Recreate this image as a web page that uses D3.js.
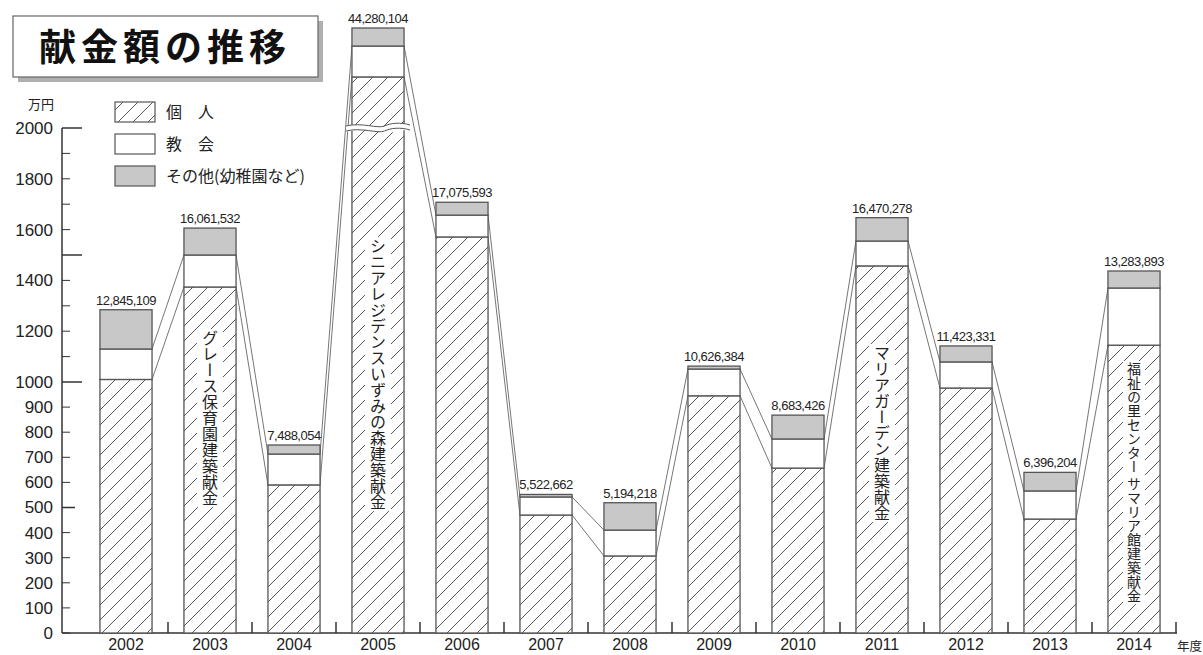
<!DOCTYPE html>
<html><head><meta charset="utf-8">
<script src="https://cdn.jsdelivr.net/npm/d3@7"></script>
<style>
body{margin:0;background:#fff;}
svg{display:block;}
</style></head>
<body>
<svg id="c" width="1203" height="655"></svg>
<script>
const years = ["2002","2003","2004","2005","2006","2007","2008","2009","2010","2011","2012","2013","2014"];
const kojin  = [1010,1374,590,3240,1571,470,307,945,657,1457,976,454,1145];
const kyokai = [120,126,123,750,86,72,103,106,116,98,103,112,225];
const sonota = [154.5,106,36,438,50.6,10,109,11.6,95,92,63,74,67];
const totals = ["12,845,109","16,061,532","7,488,054","44,280,104","17,075,593","5,522,662","5,194,218","10,626,384","8,683,426","16,470,278","11,423,331","6,396,204","13,283,893"];
const notes = [
  {year:"2003", text:"グレース保育園建築献金", y0:330},
  {year:"2005", text:"シニアレジデンスいずみの森建築献金", y0:238},
  {year:"2011", text:"マリアガーデン建築献金", y0:345},
  {year:"2014", text:"福祉の里センター サマリア館建築献金", y0:362}
];
const yLabels = [0,100,200,300,400,500,600,700,800,900,1000,1200,1400,1600,1800,2000];
const yTicks = [0,100,200,300,400,500,600,700,800,900,1000,1100,1200,1300,1400,1500,1600,1700,1800,1900,2000];
const legendItems = ["個　人","教　会","その他(幼稚園など)"];

const svg = d3.select("#c");
const FONT = "Liberation Sans, Arial, sans-serif";
const JP = "'Noto Sans CJK JP', sans-serif";
const stroke = "#555";

const defs = svg.append("defs");
const pat = defs.append("pattern").attr("id","hatch").attr("patternUnits","userSpaceOnUse")
  .attr("width",15).attr("height",15);
pat.append("rect").attr("width",15).attr("height",15).attr("fill","#fff");
pat.append("path").attr("d","M-1,16 L16,-1 M-4,4 L4,-4 M11,19 L19,11").attr("stroke","#444").attr("stroke-width",0.9);

const x = d3.scaleBand().domain(years).range([84,1176]).paddingInner(0.38).paddingOuter(0.19);
const y = d3.scaleLinear().domain([0,1000,2000,4428]).range([633,382,128,28]);

// Title box
svg.append("rect").attr("x",18).attr("y",21).attr("width",305).attr("height",61).attr("fill","#b0b0b0");
svg.append("rect").attr("x",13).attr("y",16).attr("width",305).attr("height",61).attr("fill","#fff").attr("stroke","#666").attr("stroke-width",1.2);
svg.append("text").attr("x",165).attr("y",61).attr("text-anchor","middle")
  .attr("font-family",JP).attr("font-weight",700).attr("font-size",37).attr("letter-spacing",5)
  .attr("fill","#111").text("献金額の推移");

// Legend
const fills = ["url(#hatch)","#fff","#c8c8c8"];
legendItems.forEach((t,i)=>{
  const ly = 102 + i*32;
  svg.append("rect").attr("x",115).attr("y",ly).attr("width",40).attr("height",20)
    .attr("fill",fills[i]).attr("stroke",stroke).attr("stroke-width",1.2);
  svg.append("text").attr("x",166).attr("y",ly+16).attr("font-family",JP).attr("font-size",16)
    .attr("fill","#222").text(t);
});

// Y axis
svg.append("text").attr("x",28).attr("y",109).attr("font-family",JP).attr("font-size",13).attr("fill","#222").text("万円");
const yAxis = d3.axisLeft(y).tickValues(yLabels).tickSize(0).tickPadding(9).tickFormat(d=>d);
const gy = svg.append("g").attr("transform","translate(62,0)").call(yAxis);
gy.select(".domain").remove();
gy.selectAll("text").attr("font-family",FONT).attr("font-size",17).attr("fill","#222");
svg.append("line").attr("x1",62).attr("x2",62).attr("y1",y(0)).attr("y2",y(2000)).attr("stroke","#333").attr("stroke-width",1.5);
svg.selectAll(".yt").data(yTicks).join("line").attr("class","yt")
  .attr("x1",62).attr("x2",d=> (d%500===0 && d>0) ? (d===500?75:82) : 70)
  .attr("y1",d=>y(d)).attr("y2",d=>y(d)).attr("stroke","#333").attr("stroke-width",d=>(d%500===0&&d>0)?1.5:1);

// X axis
svg.append("line").attr("x1",62).attr("x2",1177).attr("y1",633).attr("y2",633).attr("stroke","#333").attr("stroke-width",1.5);
const xAxis = d3.axisBottom(x).tickSize(0).tickPadding(6);
const gx = svg.append("g").attr("transform","translate(0,633)").call(xAxis);
gx.select(".domain").remove();
gx.selectAll("text").attr("font-family",FONT).attr("font-size",16).attr("fill","#222");
const bounds = years.slice(1).map(d=>x(d) - x.step()*x.paddingInner()/2).concat([x(years[years.length-1])+x.bandwidth()+x.step()*x.paddingInner()/2]);
svg.selectAll(".xt").data(bounds).join("line").attr("class","xt")
  .attr("x1",d=>d).attr("x2",d=>d).attr("y1",633).attr("y2",622).attr("stroke","#333").attr("stroke-width",1.5);
svg.append("text").attr("x",1177).attr("y",651).attr("font-family",JP).attr("font-size",12.5).attr("fill","#222").text("年度");

// Connector lines
const kTop = kojin;
const cTop = kojin.map((k,i)=>k+kyokai[i]);
const conn = svg.append("g").attr("stroke","#666").attr("stroke-width",0.9);
for(let i=0;i<years.length-1;i++){
  const x1 = x(years[i])+x.bandwidth(), x2 = x(years[i+1]);
  [kTop, cTop].forEach(arr=>{
    conn.append("line").attr("x1",x1).attr("x2",x2).attr("y1",y(arr[i])).attr("y2",y(arr[i+1]));
  });
}

// Bars
const bars = svg.append("g");
years.forEach((yr,i)=>{
  const bx = x(yr), bw = x.bandwidth();
  const segs = [[0,kojin[i],"url(#hatch)"],[kojin[i],cTop[i],"#fff"],[cTop[i],cTop[i]+sonota[i],"#c8c8c8"]];
  segs.forEach(s=>{
    bars.append("rect").attr("x",bx).attr("width",bw).attr("y",y(s[1])).attr("height",y(s[0])-y(s[1]))
      .attr("fill",s[2]).attr("stroke",stroke).attr("stroke-width",1.3);
  });
  svg.append("text").attr("x",bx+bw/2).attr("y",y(cTop[i]+sonota[i])-5).attr("text-anchor","middle")
    .attr("font-family",FONT).attr("font-size",13).attr("fill","#222").attr("letter-spacing",-0.5).text(totals[i]);
});

// Axis break on 2005 bar
const bx5 = x("2005")-6, bw5 = x.bandwidth()+12, yb = y(2000);
const wave = (off)=>{
  let p = `M${bx5},${yb+off}`;
  p += ` C${bx5+bw5*0.25},${yb+off-4} ${bx5+bw5*0.5},${yb+off+3} ${bx5+bw5*0.6},${yb+off}`;
  p += ` S${bx5+bw5*0.85},${yb+off-4} ${bx5+bw5},${yb+off-1}`;
  return p;
};
svg.append("path").attr("d", wave(-2)+` L${bx5+bw5},${yb+3} `+
   `C${bx5+bw5*0.85},${yb+0} ${bx5+bw5*0.75},${yb+6} ${bx5+bw5*0.6},${yb+4} S${bx5+bw5*0.25},${yb} ${bx5},${yb+4} Z`)
  .attr("fill","#fff");
svg.append("path").attr("d",wave(-2)).attr("fill","none").attr("stroke","#555").attr("stroke-width",1);
svg.append("path").attr("d",wave(3)).attr("fill","none").attr("stroke","#555").attr("stroke-width",1);

// Vertical notes
notes.forEach(n=>{
  const cx = x(n.year)+x.bandwidth()/2;
  const t = svg.append("text").attr("x",cx).attr("y",n.y0)
    .attr("font-family",JP).attr("font-size",n.year==="2014"?14:16).attr("fill","#222")
    .style("writing-mode","vertical-rl").style("glyph-orientation-vertical","0")
    .text(n.text);
  const bb = t.node().getBBox();
  svg.insert("rect", function(){return t.node();})
    .attr("x",bb.x-1).attr("y",bb.y-1).attr("width",bb.width+2).attr("height",bb.height+2).attr("fill","#fff");
});
</script>
</body></html>
